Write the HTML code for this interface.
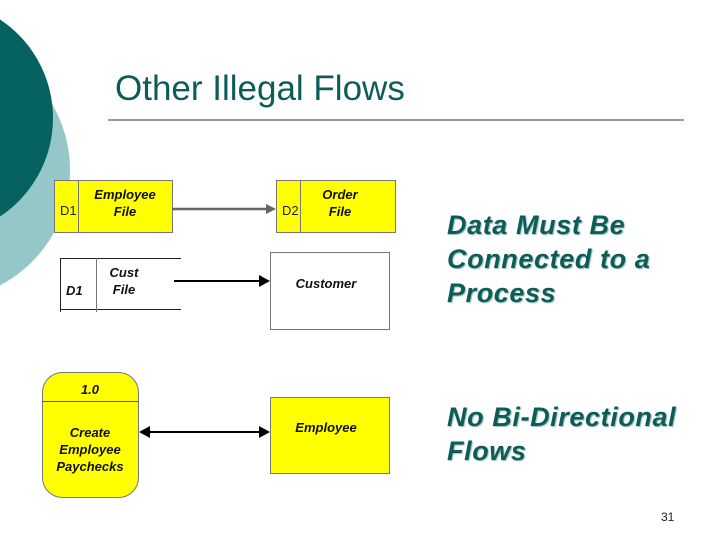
<!DOCTYPE html>
<html><head><meta charset="utf-8"><style>
body{margin:0;width:720px;height:540px;background:#fff;overflow:hidden;position:relative;font-family:"Liberation Sans",sans-serif}
.a{position:absolute}
.b{font-weight:bold;font-style:italic;font-size:13px;color:#111;text-align:center;line-height:17px}
.r{font-weight:bold;font-style:italic;font-size:27px;letter-spacing:0.6px;color:#0e5c58;line-height:34px;text-shadow:1px 1px 1px #9bb}
</style></head><body>
<svg class="a" style="left:0;top:0" width="720" height="540">
<circle cx="-60" cy="170" r="130" fill="#95c7c9"/>
<circle cx="-65" cy="118" r="118" fill="#05625e"/>
<line x1="108" y1="120" x2="684" y2="120" stroke="#333" stroke-width="1"/>
<rect x="54.5" y="180.5" width="118" height="52" fill="#ffff00" stroke="#777"/>
<line x1="78.5" y1="180" x2="78.5" y2="233" stroke="#777"/>
<rect x="276.5" y="180.5" width="119" height="52" fill="#ffff00" stroke="#777"/>
<line x1="300.5" y1="180" x2="300.5" y2="233" stroke="#777"/>
<line x1="172" y1="209" x2="266" y2="209" stroke="#666" stroke-width="2.5"/>
<polygon points="266,204 276,209 266,214" fill="#666"/>
<line x1="60" y1="258.5" x2="181" y2="258.5" stroke="#222"/>
<line x1="60" y1="309.5" x2="181" y2="309.5" stroke="#222"/>
<line x1="60.5" y1="258" x2="60.5" y2="312" stroke="#222"/>
<line x1="96.5" y1="258" x2="96.5" y2="312" stroke="#777"/>
<rect x="270.5" y="252.5" width="119" height="77" fill="#fff" stroke="#777"/>
<line x1="174" y1="281" x2="260" y2="281" stroke="#000" stroke-width="2"/>
<polygon points="259,275 270,281 259,287" fill="#000"/>
<rect x="42.5" y="372.5" width="96" height="125" rx="20" fill="#ffff00" stroke="#777"/>
<line x1="43" y1="401.5" x2="138" y2="401.5" stroke="#555"/>
<rect x="270.5" y="397.5" width="119" height="76" fill="#ffff00" stroke="#777"/>
<line x1="148" y1="432" x2="260" y2="432" stroke="#000" stroke-width="2"/>
<polygon points="139,432 150,426 150,438" fill="#000"/>
<polygon points="270,432 259,426 259,438" fill="#000"/>
</svg>
<div class="a" style="left:115px;top:69px;font-size:35px;color:#0e5c58">Other Illegal Flows</div>
<div class="a" style="left:60px;top:203px;font-size:13px;color:#222">D1</div>
<div class="a b" style="left:78px;top:186px;width:94px">Employee<br>File</div>
<div class="a" style="left:282px;top:203px;font-size:13px;color:#222">D2</div>
<div class="a b" style="left:300px;top:186px;width:80px">Order<br>File</div>
<div class="a b" style="left:66px;top:282px">D1</div>
<div class="a b" style="left:104px;top:264px;width:40px">Cust<br>File</div>
<div class="a b" style="left:270px;top:275px;width:112px">Customer</div>
<div class="a b" style="left:42px;top:381px;width:96px">1.0</div>
<div class="a b" style="left:42px;top:424px;width:96px">Create<br>Employee<br>Paychecks</div>
<div class="a b" style="left:270px;top:419px;width:112px">Employee</div>
<div class="a r" style="left:447px;top:208px">Data Must Be<br>Connected to a<br>Process</div>
<div class="a r" style="left:447px;top:400px">No Bi-Directional<br>Flows</div>
<div class="a" style="left:661px;top:510px;font-size:12px;color:#222">31</div>
</body></html>
